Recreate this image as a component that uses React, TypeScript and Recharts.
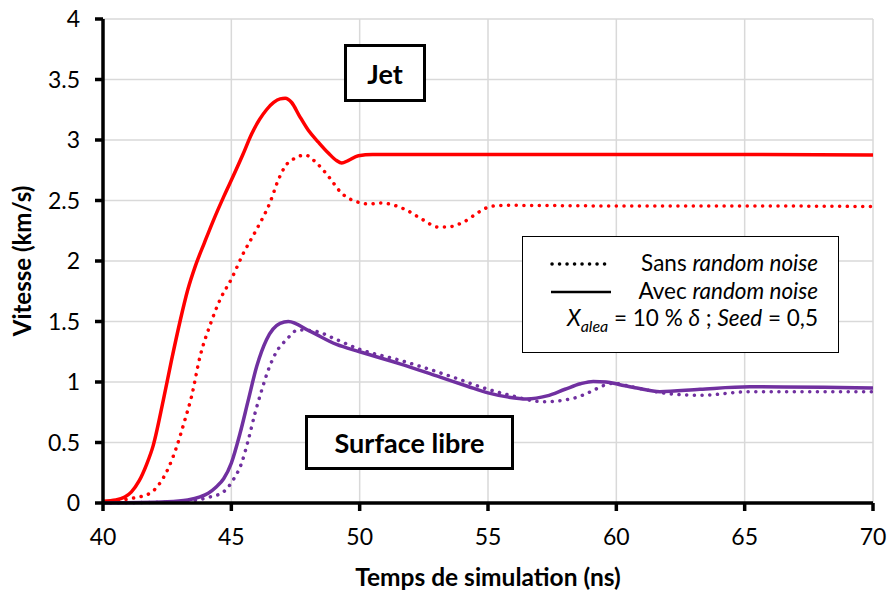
import React from 'react';
import { LineChart, Line, XAxis, YAxis, CartesianGrid } from 'recharts';

// Jet – avec random noise (solid red)
const jetAvecX = [40, 40.5, 40.85, 41.1, 41.4, 41.7, 41.95, 42.35, 42.67, 43.0, 43.3, 43.6, 43.95, 44.29, 44.7, 45.07, 45.45, 45.79, 46.1, 46.37, 46.65, 46.9, 47.1, 47.35, 47.65, 48.0, 48.4, 48.79, 49.1, 49.3, 49.55, 49.95, 50.5, 51.4, 55, 60, 65, 70];
const jetAvecY = [0.015, 0.025, 0.05, 0.09, 0.18, 0.32, 0.47, 0.85, 1.18, 1.5, 1.76, 1.96, 2.15, 2.33, 2.53, 2.70, 2.88, 3.05, 3.17, 3.25, 3.31, 3.34, 3.345, 3.31, 3.2, 3.08, 2.98, 2.89, 2.83, 2.81, 2.83, 2.87, 2.88, 2.88, 2.88, 2.88, 2.88, 2.875];

// Jet – sans random noise (dotted red)
const jetSansX = [40, 41.17, 41.83, 42.22, 42.55, 42.87, 43.19, 43.45, 43.78, 44.17, 44.56, 45.01, 45.46, 45.98, 46.5, 46.83, 47.09, 47.48, 47.87, 48.32, 48.78, 49.3, 49.95, 50.4, 50.79, 51.18, 51.83, 52.47, 53.06, 53.38, 54.03, 54.69, 55.08, 55.6, 60, 65, 70];
const jetSansY = [0.01, 0.04, 0.08, 0.165, 0.29, 0.465, 0.686, 0.88, 1.21, 1.47, 1.68, 1.855, 2.06, 2.26, 2.48, 2.67, 2.78, 2.85, 2.876, 2.81, 2.70, 2.56, 2.485, 2.47, 2.48, 2.47, 2.42, 2.34, 2.28, 2.28, 2.32, 2.41, 2.45, 2.46, 2.455, 2.455, 2.45];

// Surface libre – avec random noise (solid purple)
const surfAvecX = [40, 42.5, 43.3, 43.78, 44.1, 44.4, 44.7, 45.0, 45.34, 45.66, 45.99, 46.37, 46.9, 47.22, 48.06, 49.1, 50.0, 51.57, 53.0, 54.2, 55.0, 55.8, 56.5, 57.3, 58.0, 58.6, 59.1, 59.6, 60.1, 60.8, 61.7, 63.26, 65.2, 70];
const surfAvecY = [0.0, 0.01, 0.025, 0.05, 0.08, 0.13, 0.2, 0.33, 0.576, 0.85, 1.13, 1.35, 1.485, 1.50, 1.42, 1.31, 1.25, 1.15, 1.05, 0.965, 0.91, 0.875, 0.86, 0.885, 0.94, 0.985, 1.005, 1.0, 0.98, 0.95, 0.92, 0.94, 0.96, 0.95];

// Surface libre – sans random noise (dotted purple)
const surfSansX = [40, 43, 44.17, 44.68, 45.07, 45.4, 45.66, 45.92, 46.18, 46.44, 46.76, 47.15, 47.6, 48.26, 49.1, 50.0, 51.57, 52.35, 53.5, 55.0, 55.86, 57.15, 58.32, 59.0, 59.5, 59.9, 60.5, 61.95, 63.26, 65.2, 70];
const surfSansY = [0, 0.01, 0.05, 0.09, 0.19, 0.33, 0.52, 0.74, 0.93, 1.1, 1.25, 1.35, 1.43, 1.42, 1.35, 1.27, 1.18, 1.13, 1.05, 0.94, 0.89, 0.837, 0.865, 0.92, 0.97, 0.99, 0.965, 0.906, 0.89, 0.92, 0.92];

const xTicks = [40, 45, 50, 55, 60, 65, 70];
const yTicks = [0, 0.5, 1, 1.5, 2, 2.5, 3, 3.5, 4];

const toPts = (xs: number[], ys: number[]) => xs.map((x, i) => ({ x, y: ys[i] }));

const jetAvec = toPts(jetAvecX, jetAvecY);
const jetSans = toPts(jetSansX, jetSansY);
const surfAvec = toPts(surfAvecX, surfAvecY);
const surfSans = toPts(surfSansX, surfSansY);

const RED = '#ff0000';
const PURPLE = '#7030a0';
const FONT = 'Lato, "Open Sans", sans-serif';

const boxStyle: React.CSSProperties = {
  position: 'absolute',
  background: '#fff',
  border: '3px solid #000',
  boxSizing: 'border-box',
  display: 'flex',
  alignItems: 'center',
  justifyContent: 'center',
  fontFamily: FONT,
  fontWeight: 700,
  fontSize: 27,
  color: '#000',
};

export default function App() {
  return (
    <div style={{ position: 'absolute', left: 0, top: 0, width: 887, height: 592, background: '#fff', fontFamily: FONT }}>
      <LineChart width={887} height={592} margin={{ top: 19, right: 14, bottom: 0, left: 0 }}>
        <CartesianGrid stroke="#d9d9d9" strokeWidth={1.5} />
        <XAxis
          type="number"
          dataKey="x"
          domain={[40, 70]}
          ticks={xTicks}
          allowDataOverflow
          height={89}
          axisLine={{ stroke: '#000', strokeWidth: 3.5 }}
          tickLine={{ stroke: '#000', strokeWidth: 3.5 }}
          tickSize={8}
          tickMargin={18}
          tick={{ fill: '#000', fontSize: 23, fontFamily: FONT }}
          label={{ value: 'Temps de simulation (ns)', position: 'insideBottom', offset: 6, fill: '#000', fontSize: 24.5, fontWeight: 700, fontFamily: FONT }}
        />
        <YAxis
          type="number"
          domain={[0, 4]}
          ticks={yTicks}
          width={103}
          axisLine={{ stroke: '#000', strokeWidth: 3.5 }}
          tickLine={{ stroke: '#000', strokeWidth: 3.5 }}
          tickSize={8}
          tickMargin={15}
          tick={{ fill: '#000', fontSize: 23, fontFamily: FONT }}
          label={{ value: 'Vitesse (km/s)', angle: -90, position: 'insideLeft', offset: 22, fill: '#000', fontSize: 24, fontWeight: 700, fontFamily: FONT, style: { textAnchor: 'middle' } }}
        />
        <Line data={jetSans} dataKey="y" type="monotone" stroke={RED} strokeWidth={3.5} strokeDasharray="0.1 7.6" strokeLinecap="round" dot={false} isAnimationActive={false} />
        <Line data={surfSans} dataKey="y" type="monotone" stroke={PURPLE} strokeWidth={3.5} strokeDasharray="0.1 7.6" strokeLinecap="round" dot={false} isAnimationActive={false} />
        <Line data={jetAvec} dataKey="y" type="monotone" stroke={RED} strokeWidth={3.5} dot={false} isAnimationActive={false} />
        <Line data={surfAvec} dataKey="y" type="monotone" stroke={PURPLE} strokeWidth={3.5} dot={false} isAnimationActive={false} />
      </LineChart>

      <div style={{ ...boxStyle, left: 344, top: 44, width: 82, height: 58 }}>Jet</div>
      <div style={{ ...boxStyle, left: 305, top: 415, width: 209, height: 55 }}>Surface libre</div>

      <div style={{ position: 'absolute', left: 522, top: 236, width: 317, height: 117, background: '#fff', border: '1.5px solid #000', boxSizing: 'border-box', fontFamily: FONT, fontSize: 22.5, color: '#000' }}>
        <svg style={{ position: 'absolute', left: 0, top: 0 }} width={314} height={114}>
          <line x1={29} y1={27} x2={88} y2={27} stroke="#000" strokeWidth={3.5} strokeDasharray="0.1 7.4" strokeLinecap="round" />
          <line x1={28} y1={55} x2={88} y2={55} stroke="#000" strokeWidth={2.5} />
        </svg>
        <div style={{ position: 'absolute', right: 20, top: 12, lineHeight: '28px', whiteSpace: 'nowrap' }}>Sans <i>random noise</i></div>
        <div style={{ position: 'absolute', right: 20, top: 40, lineHeight: '28px', whiteSpace: 'nowrap' }}>Avec <i>random noise</i></div>
        <div style={{ position: 'absolute', right: 20, top: 67, lineHeight: '28px', whiteSpace: 'nowrap' }}>
          <i>X</i><sub style={{ fontSize: 16, fontStyle: 'italic', verticalAlign: '-6px', lineHeight: 0 }}>alea</sub> = 10 % <i>δ</i> ; <i>Seed</i> = 0,5
        </div>
      </div>
    </div>
  );
}
